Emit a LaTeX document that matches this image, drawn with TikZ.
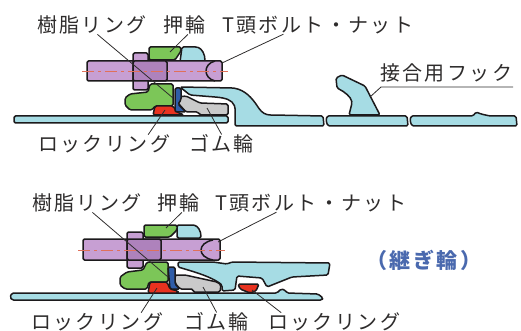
\documentclass[tikz,border=0pt]{standalone}
\usepackage{xcolor}
\usepackage{fontspec}
\setmainfont{Noto Sans CJK JP}[LetterSpace=12]
\definecolor{joint-line}{HTML}{1C1A1C}
\definecolor{joint-text}{HTML}{2E2C2C}
\definecolor{joint-pipe}{HTML}{A6DCE4}
\definecolor{joint-bolt}{HTML}{C79FD3}
\definecolor{joint-bolt-dark}{HTML}{AE82BC}
\definecolor{joint-push}{HTML}{7CC658}
\definecolor{joint-lock}{HTML}{E8321F}
\definecolor{joint-resin}{HTML}{2F5DA8}
\definecolor{joint-rubber}{HTML}{CACACA}
\definecolor{joint-axis}{HTML}{E0705A}
\definecolor{joint-title}{HTML}{4A69AE}
\tikzset{
  part/.style={draw=joint-line, line width=1.5pt, line join=round, rounded corners=1.5pt},
  caption/.style={anchor=west, inner sep=0pt, text=joint-text, font=\fontsize{20}{20}\selectfont},
  leader/.style={draw=joint-text, line width=0.8pt},
  axis/.style={draw=joint-axis, line width=0.6pt, dash pattern=on 12pt off 4pt on 3pt off 4pt}
}
\begin{document}
\begin{tikzpicture}[x=1pt, y=-1pt]
    \useasboundingbox (0, 0) rectangle (521, 331);

    % Upper joint: pipes
    \draw[part, fill=joint-pipe] (14, 116) -- (228, 116) -- (228, 123) -- (14, 123) -- cycle;
    \draw[part, fill=joint-pipe] (327, 116) -- (407, 116) -- (408, 126) -- (328, 126) -- (326, 121) -- cycle;
    \draw[part, fill=joint-pipe] (411, 116) -- (473, 116) -- (476, 112) -- (481, 114) -- (490, 116) -- (516, 116) -- (517, 126) -- (412, 126) -- (410, 121) -- cycle;

    % Upper joint: socket
    \draw[part, fill=joint-pipe] (180, 87) -- (233, 88) .. controls (245, 90) and (252, 98) .. (258, 107) .. controls (262, 113) and (266, 115) .. (272, 115) -- (323, 116) -- (324, 126) -- (235, 126) -- (235, 107) .. controls (232, 100) and (226, 98) .. (215, 97) -- (190, 95) -- cycle;
    \draw[part, fill=joint-pipe] (182, 47) -- (197, 47) .. controls (202, 49) and (205, 54) .. (205, 62) -- (180, 62) -- cycle;

    % Upper joint: hook
    \draw[part, fill=joint-pipe] (349, 115) -- (352, 103) .. controls (351, 97) and (345, 92) .. (337, 88) -- (336, 78) -- (342, 75) -- (365, 86) -- (380, 115) -- cycle;

    % Upper joint: push ring
    \draw[part, fill=joint-push] (149, 47) -- (181, 47) -- (181, 51) -- (175, 60) -- (149, 60) -- cycle;
    \draw[part, fill=joint-push] (150, 84) -- (173, 84) -- (173, 106) -- (155, 106) -- (152, 110) -- (130, 110) -- (125, 105) -- (125, 98) -- (130, 94) -- (148, 92) -- cycle;

    % Upper joint: rings
    \draw[part, fill=joint-rubber] (178, 97) -- (186, 96) -- (200, 103) -- (228, 104) -- (228, 115) -- (200, 115) -- (198, 112) -- (186, 112) -- (178, 103) -- cycle;
    \draw[part, fill=joint-lock] (155, 106) -- (173, 106) -- (177, 112) -- (184, 115) -- (153, 115) -- cycle;
    \draw[part, fill=joint-resin] (175, 88) -- (181, 88) -- (181, 100) -- (178, 104) -- (186, 112) -- (175, 112) -- cycle;

    % Upper joint: bolt and nut
    \draw[part, fill=joint-bolt] (87, 61) -- (222, 61) -- (222, 81) -- (87, 81) -- cycle;
    \draw[part, fill=joint-bolt] (133, 53) -- (148, 53) -- (148, 90) -- (133, 90) -- cycle;
    \draw[part, fill=joint-bolt-dark] (133, 61) rectangle (167, 81);
    \draw[part] (215, 61) .. controls (203, 64) and (203, 78) .. (215, 81);
    \draw[axis] (82, 71) -- (228, 71);

    % Lower joint: pipe
    \draw[part, fill=joint-pipe] (12, 293) -- (277, 293) -- (281, 289) -- (285, 290) -- (287, 293) -- (318, 294) -- (323, 298) -- (322, 300) -- (12, 300) -- (10, 297) -- cycle;

    % Lower joint: sleeve
    \draw[part, fill=joint-pipe] (178, 262) -- (213, 262) -- (227, 264) -- (232, 262) -- (330, 263) -- (328, 275) -- (292, 277) -- (267, 287) -- (262, 278) -- (237, 276) -- (235, 290) -- (222, 291) -- (222, 285) .. controls (212, 277) and (195, 272) .. (178, 267) -- cycle;
    \draw[part, fill=joint-pipe] (177, 225) -- (193, 225) .. controls (198, 226) and (201, 231) .. (201, 238) -- (177, 238) -- cycle;

    % Lower joint: push ring
    \draw[part, fill=joint-push] (144, 225) -- (177, 225) -- (177, 230) -- (170, 237) -- (144, 237) -- cycle;
    \draw[part, fill=joint-push] (147, 262) -- (168, 262) -- (168, 282) -- (149, 282) -- (147, 289) -- (125, 289) -- (120, 285) -- (120, 277) -- (127, 272) -- (143, 270) -- cycle;

    % Lower joint: rings
    \draw[part, fill=joint-rubber] (175, 275) -- (185, 275) -- (217, 282) -- (221, 285) -- (220, 292) -- (193, 292) -- (193, 289) -- (180, 289) -- (175, 283) -- cycle;
    \draw[part, fill=joint-lock] (150, 282) -- (167, 282) -- (170, 289) -- (178, 291) -- (178, 293) -- (148, 293) -- cycle;
    \draw[part, fill=joint-lock] (238, 284) -- (259, 284) -- (256, 291) -- (250, 293) -- (240, 289) -- cycle;
    \draw[part, fill=joint-resin] (168, 267) -- (175, 267) -- (175, 284) -- (180, 289) -- (170, 289) -- cycle;

    % Lower joint: bolt and nut
    \draw[part, fill=joint-bolt] (83, 239) -- (220, 239) -- (220, 260) -- (83, 260) -- cycle;
    \draw[part, fill=joint-bolt] (127, 232) -- (143, 232) -- (143, 268) -- (127, 268) -- cycle;
    \draw[part, fill=joint-bolt-dark] (127, 239) rectangle (161, 260);
    \draw[part] (213, 240) .. controls (197, 243) and (197, 257) .. (213, 260);
    \draw[axis] (78, 250) -- (225, 250);

    % Upper labels
    \node[caption] (resinA) at (37, 25) {樹脂リング};
    \node[caption] (pushA) at (163, 25) {押輪};
    \node[caption] (boltA) at (222, 25) {T頭ボルト・ナット};
    \node[caption] (hookA) at (380, 73) {接合用フック};
    \node[caption] (lockA) at (38, 144) {ロックリング};
    \node[caption] (rubberA) at (189, 144) {ゴム輪};

    % Lower labels
    \node[caption] (resinB) at (32, 203) {樹脂リング};
    \node[caption] (pushB) at (157, 203) {押輪};
    \node[caption] (boltB) at (215, 203) {T頭ボルト・ナット};
    \node[caption] (lockB) at (31, 322) {ロックリング};
    \node[caption] (rubberB) at (184, 322) {ゴム輪};
    \node[caption] (lockC) at (268, 322) {ロックリング};
    \node[caption, text=joint-title, font=\fontsize{21}{21}\selectfont\bfseries] (title) at (366, 260) {（継ぎ輪）};

    % Leaders
    \coordinate (resinTipA) at (173, 98);
    \coordinate (pushTipA) at (170, 52);
    \coordinate (boltTipA) at (222, 63);
    \coordinate (hookStartA) at (381, 87);
    \coordinate (hookEndA) at (513, 87);
    \coordinate (hookTipA) at (370, 97);
    \coordinate (lockTipA) at (165, 110);
    \coordinate (rubberTipA) at (207, 108);
    \coordinate (resinTipB) at (168, 277);
    \coordinate (pushTipB) at (166, 228);
    \coordinate (boltTipB) at (218, 242);
    \coordinate (lockTipB) at (157, 288);
    \coordinate (rubberTipB) at (203, 287);
    \coordinate (lockTipC) at (252, 290);
    \draw[leader] (resinA.-60) -- (resinTipA);
    \draw[leader] (pushA.-70) -- (pushTipA);
    \draw[leader] (boltA.-165) -- (boltTipA);
    \draw[leader] (hookEndA) -- (hookStartA) -- (hookTipA);
    \draw[leader] (lockA.12) -- (lockTipA);
    \draw[leader] (rubberA.north) -- (rubberTipA);
    \draw[leader] (resinB.-60) -- (resinTipB);
    \draw[leader] (pushB.-70) -- (pushTipB);
    \draw[leader] (boltB.-165) -- (boltTipB);
    \draw[leader] (lockB.12) -- (lockTipB);
    \draw[leader] (rubberB.north) -- (rubberTipB);
    \draw[leader] (lockC.170) -- (lockTipC);

\end{tikzpicture}
\end{document}
